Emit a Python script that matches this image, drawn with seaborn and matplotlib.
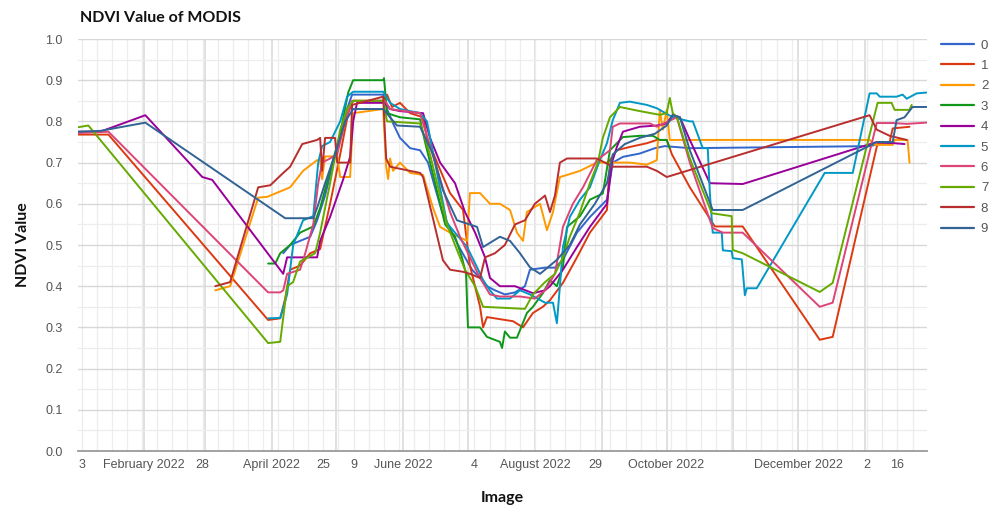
import numpy as np
import pandas as pd
import matplotlib
matplotlib.use("Agg")
import matplotlib.pyplot as plt
from matplotlib.lines import Line2D
import seaborn as sns

# ---------------- data (days since 2022-01-01, NDVI) ----------------
s0_day = [95.4, 98.6, 103.2, 107.9, 111.1, 114.8, 118.5, 121.8, 125.0, 127.3, 141.7, 143.5, 146.3, 149.5, 154.2, 158.8, 162.5, 165.7, 169.0, 172.7, 176.4, 179.6, 182.9, 186.6, 189.8, 193.5, 198.1, 202.8, 207.4, 209.7, 216.7, 221.3, 225.0, 231.5, 237.5, 245.4, 248.1, 252.8, 260.6, 267.6, 272.2, 283.8, 367.1, 371.8, 377.8]
s0_val = [0.48, 0.50, 0.51, 0.52, 0.56, 0.62, 0.70, 0.76, 0.83, 0.865, 0.865, 0.83, 0.795, 0.76, 0.735, 0.73, 0.70, 0.64, 0.58, 0.54, 0.50, 0.47, 0.44, 0.42, 0.40, 0.39, 0.38, 0.385, 0.40, 0.44, 0.445, 0.445, 0.464, 0.53, 0.568, 0.61, 0.70, 0.714, 0.722, 0.735, 0.74, 0.735, 0.74, 0.745, 0.747]

s1_day = [0.5, 14.4, 88.4, 94.0, 96.3, 98.6, 103.2, 107.9, 112.5, 117.1, 121.8, 125.5, 127.8, 141.7, 143.5, 145.8, 149.5, 154.2, 160.2, 162.0, 166.7, 172.7, 178.7, 181.9, 186.6, 188.0, 189.8, 195.8, 201.9, 206.5, 211.1, 215.7, 219.0, 225.0, 231.5, 237.5, 245.4, 246.8, 250.0, 256.0, 263.9, 268.5, 273.1, 275.5, 283.8, 295.4, 308.3, 344.0, 350.0, 370.8, 376.4, 377.8, 385.6]
s1_val = [0.768, 0.768, 0.318, 0.322, 0.37, 0.44, 0.45, 0.48, 0.49, 0.60, 0.72, 0.82, 0.85, 0.85, 0.865, 0.835, 0.845, 0.82, 0.81, 0.76, 0.70, 0.626, 0.585, 0.45, 0.35, 0.30, 0.325, 0.32, 0.315, 0.30, 0.335, 0.35, 0.366, 0.408, 0.47, 0.53, 0.585, 0.706, 0.73, 0.738, 0.747, 0.755, 0.755, 0.72, 0.64, 0.545, 0.545, 0.27, 0.277, 0.747, 0.75, 0.783, 0.787]

s2_day = [63.9, 70.8, 83.8, 88.0, 94.0, 98.6, 104.6, 111.1, 112.5, 113.4, 114.8, 120.4, 121.8, 126.4, 127.8, 141.7, 143.1, 144.0, 144.9, 146.3, 149.5, 154.2, 160.2, 164.8, 168.1, 172.7, 180.6, 181.9, 186.6, 191.2, 195.8, 200.5, 203.7, 206.5, 208.3, 214.4, 217.6, 220.4, 223.6, 226.9, 232.9, 240.7, 256.0, 263.9, 268.5, 269.9, 271.3, 273.1, 274.5, 367.1, 369.4, 377.8, 378.7, 384.7, 385.6]
s2_val = [0.39, 0.40, 0.615, 0.617, 0.63, 0.64, 0.68, 0.706, 0.706, 0.66, 0.715, 0.715, 0.665, 0.665, 0.82, 0.83, 0.69, 0.66, 0.71, 0.68, 0.70, 0.675, 0.67, 0.59, 0.544, 0.53, 0.51, 0.626, 0.626, 0.60, 0.60, 0.585, 0.53, 0.51, 0.58, 0.60, 0.536, 0.58, 0.665, 0.67, 0.68, 0.70, 0.70, 0.695, 0.706, 0.828, 0.78, 0.828, 0.755, 0.755, 0.743, 0.743, 0.755, 0.755, 0.70]

s3_day = [88.4, 91.7, 94.0, 98.6, 103.2, 109.3, 112.5, 117.1, 121.8, 125.5, 127.8, 141.7, 142.1, 143.5, 149.5, 158.8, 161.1, 164.4, 168.1, 170.4, 175.0, 178.2, 180.1, 181.0, 186.6, 189.8, 195.8, 196.8, 198.1, 200.5, 203.7, 208.3, 211.1, 215.7, 219.0, 222.2, 225.0, 226.9, 232.9, 237.5, 243.5, 246.8, 252.8, 260.6, 266.7, 269.9, 273.1, 274.5]
s3_val = [0.455, 0.455, 0.48, 0.50, 0.53, 0.545, 0.59, 0.68, 0.77, 0.87, 0.90, 0.90, 0.905, 0.82, 0.81, 0.805, 0.75, 0.68, 0.60, 0.55, 0.52, 0.47, 0.43, 0.30, 0.30, 0.277, 0.265, 0.25, 0.29, 0.275, 0.275, 0.335, 0.35, 0.383, 0.415, 0.40, 0.446, 0.544, 0.57, 0.61, 0.625, 0.73, 0.762, 0.765, 0.765, 0.755, 0.755, 0.735]

s4_day = [0.5, 10.6, 31.5, 57.9, 62.5, 95.4, 97.2, 111.1, 112.5, 117.1, 123.1, 126.4, 127.8, 129.6, 142.6, 144.9, 149.5, 160.2, 163.4, 168.1, 175.0, 179.6, 184.3, 188.9, 191.2, 195.8, 202.8, 211.1, 216.7, 219.0, 225.0, 231.5, 237.5, 245.4, 247.7, 250.0, 252.8, 260.6, 268.5, 273.1, 275.9, 279.2, 283.8, 293.1, 308.3, 370.4, 376.4, 383.3]
s4_val = [0.775, 0.775, 0.815, 0.665, 0.658, 0.43, 0.47, 0.47, 0.51, 0.568, 0.658, 0.714, 0.80, 0.845, 0.845, 0.83, 0.825, 0.82, 0.76, 0.70, 0.65, 0.58, 0.53, 0.47, 0.42, 0.40, 0.40, 0.383, 0.39, 0.40, 0.44, 0.495, 0.544, 0.60, 0.70, 0.738, 0.775, 0.787, 0.79, 0.795, 0.816, 0.81, 0.755, 0.65, 0.648, 0.75, 0.748, 0.745]

s5_day = [88.4, 94.0, 97.2, 100.0, 104.6, 109.3, 111.6, 113.4, 117.1, 121.8, 125.0, 127.8, 141.7, 144.9, 149.5, 158.8, 162.0, 165.7, 171.3, 180.6, 185.2, 188.0, 191.2, 194.4, 200.5, 205.1, 209.7, 216.7, 220.4, 222.2, 223.6, 225.0, 228.2, 232.9, 237.5, 242.1, 245.4, 248.1, 251.4, 256.0, 263.9, 268.5, 275.9, 283.8, 285.2, 289.8, 292.1, 293.1, 294.4, 298.6, 299.1, 303.2, 303.7, 307.9, 309.3, 310.2, 314.8, 346.3, 359.3, 367.1, 370.4, 371.8, 379.6, 382.4, 384.3, 388.9, 393.5]
s5_val = [0.322, 0.323, 0.38, 0.50, 0.56, 0.57, 0.70, 0.74, 0.75, 0.80, 0.86, 0.872, 0.872, 0.845, 0.83, 0.82, 0.80, 0.70, 0.553, 0.495, 0.446, 0.415, 0.39, 0.37, 0.37, 0.39, 0.38, 0.36, 0.36, 0.31, 0.40, 0.495, 0.568, 0.61, 0.64, 0.706, 0.747, 0.803, 0.845, 0.848, 0.84, 0.832, 0.81, 0.80, 0.80, 0.735, 0.735, 0.625, 0.53, 0.53, 0.487, 0.485, 0.468, 0.465, 0.378, 0.395, 0.395, 0.675, 0.675, 0.868, 0.868, 0.86, 0.86, 0.865, 0.855, 0.868, 0.87]

s6_day = [0.5, 14.4, 88.4, 94.0, 95.4, 97.2, 103.2, 105.6, 109.3, 111.6, 113.4, 117.1, 120.4, 124.1, 127.3, 142.6, 144.9, 158.8, 163.4, 168.1, 172.7, 177.3, 181.9, 186.6, 191.2, 195.8, 205.1, 212.0, 216.7, 221.3, 223.6, 225.0, 229.6, 234.3, 240.7, 246.8, 248.1, 251.4, 265.3, 268.5, 277.8, 283.8, 294.4, 299.1, 308.3, 344.0, 350.0, 370.4, 377.8, 384.3, 393.5]
s6_val = [0.772, 0.775, 0.385, 0.385, 0.39, 0.43, 0.44, 0.48, 0.55, 0.65, 0.70, 0.71, 0.72, 0.80, 0.85, 0.85, 0.83, 0.82, 0.74, 0.66, 0.58, 0.52, 0.47, 0.42, 0.38, 0.375, 0.375, 0.37, 0.39, 0.43, 0.50, 0.544, 0.60, 0.64, 0.706, 0.73, 0.787, 0.795, 0.795, 0.787, 0.81, 0.70, 0.541, 0.53, 0.53, 0.35, 0.36, 0.796, 0.796, 0.794, 0.797]

s7_day = [0.5, 5.1, 88.4, 94.0, 97.2, 100.0, 103.2, 110.2, 112.5, 117.1, 121.8, 125.0, 127.8, 141.7, 143.5, 158.8, 163.4, 168.1, 171.3, 175.0, 179.6, 184.3, 188.0, 207.4, 211.1, 216.7, 221.3, 225.0, 228.2, 232.9, 237.5, 241.2, 243.5, 246.8, 251.4, 260.6, 269.9, 273.1, 274.5, 275.9, 277.8, 283.8, 294.0, 303.2, 303.7, 308.3, 344.0, 350.0, 370.8, 377.3, 378.7, 385.6, 386.6]
s7_val = [0.786, 0.79, 0.262, 0.265, 0.40, 0.41, 0.46, 0.48, 0.53, 0.65, 0.78, 0.83, 0.85, 0.85, 0.80, 0.795, 0.72, 0.62, 0.55, 0.50, 0.44, 0.40, 0.35, 0.345, 0.38, 0.41, 0.43, 0.47, 0.52, 0.58, 0.65, 0.70, 0.76, 0.81, 0.835, 0.825, 0.816, 0.82, 0.857, 0.82, 0.81, 0.71, 0.577, 0.57, 0.488, 0.48, 0.386, 0.408, 0.845, 0.845, 0.828, 0.828, 0.84]

s8_day = [63.9, 70.8, 83.8, 89.4, 95.4, 98.6, 104.2, 111.1, 112.5, 113.4, 114.8, 119.4, 120.4, 126.4, 127.3, 141.7, 143.1, 144.9, 158.8, 160.2, 169.4, 172.7, 178.7, 181.9, 186.6, 188.9, 193.5, 198.1, 202.8, 207.4, 212.0, 216.7, 219.0, 221.3, 223.6, 226.9, 240.7, 248.1, 263.9, 268.5, 273.1, 367.1, 370.4, 376.4, 384.3]
s8_val = [0.40, 0.41, 0.64, 0.645, 0.675, 0.69, 0.745, 0.755, 0.76, 0.68, 0.76, 0.76, 0.70, 0.70, 0.84, 0.86, 0.71, 0.69, 0.675, 0.665, 0.463, 0.44, 0.435, 0.43, 0.42, 0.47, 0.48, 0.50, 0.55, 0.56, 0.60, 0.62, 0.58, 0.62, 0.70, 0.71, 0.71, 0.69, 0.69, 0.68, 0.665, 0.815, 0.78, 0.765, 0.755]

s9_day = [0.5, 10.6, 31.5, 96.3, 109.3, 111.1, 114.8, 119.4, 124.1, 127.8, 141.7, 148.1, 158.8, 164.8, 169.4, 175.9, 185.2, 188.0, 195.8, 200.5, 205.1, 209.7, 214.4, 222.2, 228.2, 232.9, 239.8, 245.4, 248.1, 253.7, 260.6, 267.6, 273.1, 275.9, 279.2, 283.8, 294.4, 308.3, 370.4, 377.8, 379.6, 383.3, 387.0, 393.5]
s9_val = [0.775, 0.777, 0.797, 0.565, 0.565, 0.59, 0.65, 0.72, 0.80, 0.83, 0.83, 0.79, 0.787, 0.72, 0.633, 0.56, 0.544, 0.495, 0.52, 0.51, 0.48, 0.446, 0.43, 0.464, 0.50, 0.55, 0.60, 0.65, 0.72, 0.745, 0.76, 0.77, 0.79, 0.815, 0.81, 0.73, 0.585, 0.585, 0.75, 0.75, 0.803, 0.81, 0.835, 0.835]

series_names = ["0", "1", "2", "3", "4", "5", "6", "7", "8", "9"]
series_days = [s0_day, s1_day, s2_day, s3_day, s4_day, s5_day, s6_day, s7_day, s8_day, s9_day]
series_vals = [s0_val, s1_val, s2_val, s3_val, s4_val, s5_val, s6_val, s7_val, s8_val, s9_val]

tick_dates = ["2022-01-03", "2022-02-01", "2022-02-28", "2022-04-01", "2022-04-25", "2022-05-09",
              "2022-06-01", "2022-07-04", "2022-08-01", "2022-08-29", "2022-10-01", "2022-12-01",
              "2023-01-02", "2023-01-16"]
tick_labels = ["3", "February 2022", "28", "April 2022", "25", "9", "June 2022", "4",
               "August 2022", "29", "October 2022", "December 2022", "2", "16"]

colors = ['#3366CC', '#DC3912', '#FF9900', '#109618', '#990099',
          '#0099C6', '#DD4477', '#66AA00', '#B82E2E', '#316395']

# ---------------- build frame ----------------
base = pd.Timestamp("2022-01-01")
frames = []
for name, d, v in zip(series_names, series_days, series_vals):
    frames.append(pd.DataFrame({
        "date": base + pd.to_timedelta(np.array(d), unit="D"),
        "ndvi": v,
        "series": name,
    }))
df = pd.concat(frames, ignore_index=True)

# ---------------- plot ----------------
sns.set_style("white")
plt.rcParams["font.family"] = ["Liberation Sans", "DejaVu Sans"]

fig = plt.figure(figsize=(9.91, 5.09), dpi=100)
ax = fig.add_axes([78 / 991, 1 - 451 / 509, (927 - 78) / 991, (451 - 39) / 509])

# grid lines
for m in pd.date_range("2022-01-01", "2023-01-01", freq="MS"):
    ax.axvline(m, color="#dadada", lw=1.2, zorder=0)
for w in pd.date_range("2022-01-03", "2023-01-30", freq="W-MON"):
    ax.axvline(w, color="#ededed", lw=0.9, zorder=0)
ax.set_yticks(np.arange(0, 1.01, 0.1))
ax.set_yticks(np.arange(0.05, 1.0, 0.1), minor=True)
ax.grid(axis="y", which="major", color="#d8d8d8", lw=1.0, zorder=0)
ax.grid(axis="y", which="minor", color="#ededed", lw=0.9, zorder=0)
ax.set_axisbelow(True)

sns.lineplot(data=df, x="date", y="ndvi", hue="series", hue_order=series_names,
             palette=colors, estimator=None, sort=False, linewidth=1.4,
             legend=False, ax=ax)

ax.set_xlim(base + pd.Timedelta(days=0.3), base + pd.Timedelta(days=393.7))
ax.set_ylim(0, 1.0)

ax.set_xticks(pd.to_datetime(tick_dates))
ax.set_xticklabels(tick_labels)
ax.set_yticklabels([f"{v:.1f}" for v in np.arange(0, 1.01, 0.1)])
ax.tick_params(axis="both", which="both", length=0, labelsize=9, colors="#555555")
ax.tick_params(axis="y", pad=11)
ax.tick_params(axis="x", pad=6)

for s in ["top", "right", "left"]:
    ax.spines[s].set_visible(False)
ax.spines["bottom"].set_color("#9a9a9a")
ax.spines["bottom"].set_linewidth(1.3)

ax.set_xlabel("Image", fontsize=11.5, fontweight="bold", family=["Lato", "DejaVu Sans"], color="#111111")
ax.set_ylabel("NDVI Value", fontsize=11.5, fontweight="bold", family=["Lato", "DejaVu Sans"], color="#111111")
ax.xaxis.set_label_coords(0.5, -0.097)
ax.yaxis.set_label_coords(-0.056, 0.5)

fig.text(80 / 991, 1 - 18 / 509, "NDVI Value of MODIS", fontsize=11.5, fontweight="bold",
         family=["Lato", "DejaVu Sans"], va="center", ha="left", color="#111111")

handles = [Line2D([0], [0], color=c, lw=1.6) for c in colors]
leg = fig.legend(handles, series_names, loc="upper left", bbox_to_anchor=(936 / 991, 1 - 34 / 509),
                 frameon=False, fontsize=9.5, handlelength=2.5, labelspacing=0.62,
                 handletextpad=0.5, borderaxespad=0)
for t in leg.get_texts():
    t.set_color("#555555")

fig.savefig("out.png", dpi=100)
